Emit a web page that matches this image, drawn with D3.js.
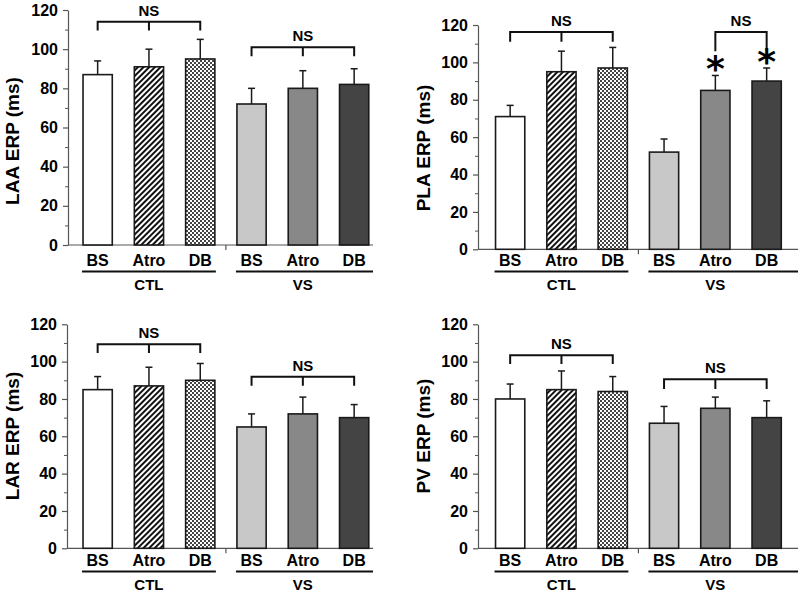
<!DOCTYPE html>
<html><head><meta charset="utf-8">
<script src="https://cdn.jsdelivr.net/npm/d3@7"></script>
<style>
body{margin:0;background:#fff;}
svg{display:block;font-family:"Liberation Sans",Arial,sans-serif;}
</style></head>
<body>
<svg id="chart" width="800" height="592"></svg>
<script>
// ---- data ----
const conditions = ["BS", "Atro", "DB", "BS", "Atro", "DB"];
const groups = ["CTL", "VS"];
const yTicks = [0, 20, 40, 60, 80, 100, 120];
const minorTicks = [10, 30, 50, 70, 90, 110];

const laaMean = [87, 91, 95, 72, 80, 82];
const laaErr  = [7, 9, 10, 8, 9, 8];
const plaMean = [71, 95, 97, 52, 85, 90];
const plaErr  = [6, 11, 11, 7, 8, 7];
const larMean = [85, 87, 90, 65, 72, 70];
const larErr  = [7, 10, 9, 7, 9, 7];
const pvMean  = [80, 85, 84, 67, 75, 70];
const pvErr   = [8, 10, 8, 9, 6, 9];

// significance brackets: [fromIndex, toIndex, middleTick, level, dropTo]
const laaBrackets = [[0, 2, true, 114, 109.5], [3, 5, true, 101, 96.4]];
const plaBrackets = [[0, 2, true, 116.2, 111], [4, 5, false, 116.2, 106]];
const larBrackets = [[0, 2, true, 109.3, 104.6], [3, 5, true, 91.9, 87.1]];
const pvBrackets  = [[0, 2, true, 103.4, 98.7], [3, 5, true, 90.5, 85.3]];
const plaStars = [[4, 99.8], [5, 103.9]];

const fills = ["#ffffff", "url(#hatch)", "url(#checker)", "#c8c8c8", "#888888", "#444444"];

const svg = d3.select("#chart");
const defs = svg.append("defs");
const hatch = defs.append("pattern").attr("id", "hatch").attr("patternUnits", "userSpaceOnUse")
  .attr("width", 4).attr("height", 4).attr("patternTransform", "rotate(45)");
hatch.append("rect").attr("width", 4).attr("height", 4).attr("fill", "#fff");
hatch.append("rect").attr("width", 2).attr("height", 4).attr("fill", "#111");
const checker = defs.append("pattern").attr("id", "checker").attr("patternUnits", "userSpaceOnUse")
  .attr("width", 4).attr("height", 4);
checker.append("rect").attr("width", 4).attr("height", 4).attr("fill", "#fff");
checker.append("rect").attr("width", 2).attr("height", 2).attr("fill", "#444");
checker.append("rect").attr("x", 2).attr("y", 2).attr("width", 2).attr("height", 2).attr("fill", "#444");

const panels = [
  {title: "LAA ERP (ms)", mean: laaMean, err: laaErr, br: laaBrackets, stars: [],
   ax: 68, y0: 245, y1: 10, xs: 72, xEnd: 373, labY: 266, titleX: 12, titleY: 141},
  {title: "PLA ERP (ms)", mean: plaMean, err: plaErr, br: plaBrackets, stars: plaStars,
   ax: 478, y0: 249.3, y1: 25, xs: 484.5, xEnd: 798, labY: 266, titleX: 423, titleY: 148},
  {title: "LAR ERP (ms)", mean: larMean, err: larErr, br: larBrackets, stars: [],
   ax: 67, y0: 548.3, y1: 324.3, xs: 72, xEnd: 373, labY: 566, titleX: 12, titleY: 436},
  {title: "PV ERP (ms)", mean: pvMean, err: pvErr, br: pvBrackets, stars: [],
   ax: 478, y0: 548.3, y1: 324.3, xs: 484.5, xEnd: 798, labY: 566, titleX: 423, titleY: 436}
];

const axisColor = "#555";

panels.forEach(p => {
  const g = svg.append("g");
  const y = d3.scaleLinear().domain([0, 120]).range([p.y0, p.y1]);
  const idx = d3.range(conditions.length);
  const x = d3.scaleBand().domain(idx).range([p.xs, p.xs + 6 * 51.3])
    .paddingInner(0.43).paddingOuter(0.215);
  const bw = x.bandwidth();

  // y axis
  const ya = g.append("g").attr("transform", `translate(${p.ax},0)`)
    .call(d3.axisLeft(y).tickValues(yTicks).tickSize(5).tickPadding(5).tickSizeOuter(0));
  ya.select(".domain").attr("stroke", axisColor).attr("stroke-width", 1.2);
  ya.selectAll(".tick line").attr("stroke", axisColor).attr("stroke-width", 1.2);
  ya.selectAll(".tick text").attr("font-size", 16).attr("font-weight", "bold").attr("fill", "#000")
    .attr("font-family", "'Liberation Sans',Arial,sans-serif");
  const ym = g.append("g").attr("transform", `translate(${p.ax},0)`)
    .call(d3.axisLeft(y).tickValues(minorTicks).tickSize(3).tickFormat(""));
  ym.select(".domain").remove();
  ym.selectAll(".tick line").attr("stroke", axisColor);

  // x axis line
  g.append("line").attr("x1", p.ax).attr("x2", p.xEnd).attr("y1", y(0)).attr("y2", y(0))
    .attr("stroke", axisColor).attr("stroke-width", 1.2);
  const midX = (x(2) + bw + x(3)) / 2;
  g.append("line").attr("x1", midX).attr("x2", midX).attr("y1", y(0)).attr("y2", y(0) + 5)
    .attr("stroke", axisColor).attr("stroke-width", 1.2);

  // bars
  g.selectAll("rect.bar").data(p.mean).join("rect").attr("class", "bar")
    .attr("x", (d, i) => x(i)).attr("width", bw)
    .attr("y", d => y(d)).attr("height", d => y(0) - y(d))
    .attr("fill", (d, i) => fills[i]).attr("stroke", "#1a1a1a").attr("stroke-width", 1.6);

  // error bars (upper)
  p.mean.forEach((m, i) => {
    const cx = x(i) + bw / 2;
    g.append("line").attr("x1", cx).attr("x2", cx).attr("y1", y(m)).attr("y2", y(m + p.err[i]))
      .attr("stroke", "#1a1a1a").attr("stroke-width", 1.5);
    g.append("line").attr("x1", cx - 3.5).attr("x2", cx + 3.5)
      .attr("y1", y(m + p.err[i])).attr("y2", y(m + p.err[i]))
      .attr("stroke", "#1a1a1a").attr("stroke-width", 1.5);
  });

  // brackets
  p.br.forEach(([a, b, mid, lev, drop]) => {
    const xa = x(a) + bw / 2, xb = x(b) + bw / 2;
    let d = `M${xa},${y(drop)}V${y(lev)}H${xb}V${y(drop)}`;
    if (mid) { const xm = (xa + xb) / 2; d += `M${xm},${y(lev)}V${y(drop)}`; }
    g.append("path").attr("d", d).attr("fill", "none").attr("stroke", "#111").attr("stroke-width", 2);
    g.append("text").attr("x", (xa + xb) / 2).attr("y", y(lev) - 6).attr("text-anchor", "middle")
      .attr("font-size", 15).attr("font-weight", "bold").text("NS");
  });

  // stars
  p.stars.forEach(([i, v]) => {
    g.append("text").attr("x", x(i) + bw / 2).attr("y", y(v) + 18.5).attr("text-anchor", "middle")
      .attr("font-family", "'DejaVu Sans',sans-serif")
      .attr("font-size", 36).attr("font-weight", "bold").text("*");
  });

  // condition labels
  g.selectAll("text.cond").data(conditions).join("text").attr("class", "cond")
    .attr("x", (d, i) => x(i) + bw / 2).attr("y", p.labY).attr("text-anchor", "middle")
    .attr("font-size", 16).attr("font-weight", "bold").text(d => d);

  // group underlines and labels
  groups.forEach((gr, k) => {
    const x1 = x(k * 3) - 1, x2 = k === 1 ? p.xEnd : x(k * 3 + 2) + bw + 1;
    g.append("line").attr("x1", x1).attr("x2", x2).attr("y1", p.labY + 5.5).attr("y2", p.labY + 5.5)
      .attr("stroke", "#111").attr("stroke-width", 1.8);
    g.append("text").attr("x", (x(k * 3) + x(k * 3 + 2) + bw) / 2).attr("y", p.labY + 24)
      .attr("text-anchor", "middle").attr("font-size", 15).attr("font-weight", "bold").text(gr);
  });

  // y title
  g.append("text").attr("transform", `translate(${p.titleX},${p.titleY}) rotate(-90)`)
    .attr("text-anchor", "middle").attr("dominant-baseline", "central")
    .attr("font-size", 19).attr("font-weight", "bold").text(p.title);
});
</script>
</body></html>
